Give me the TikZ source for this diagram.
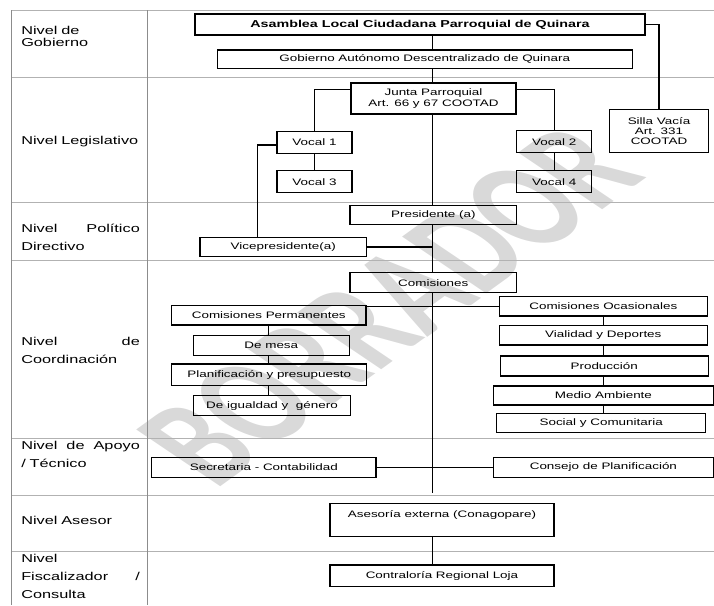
\documentclass[tikz,border=0pt]{standalone}
\usepackage{fontspec}
\setmainfont{Liberation Sans}[FakeStretch=1.43]
\newfontfamily\sellofont{Carlito}

\tikzstyle{every node}=[draw=black,line width=1.1pt,inner sep=0pt,minimum height=20pt,font=\fontsize{9.4}{10.3}\selectfont]
\tikzstyle{nivel}=[draw=none,anchor=base west,align=left,text width=118.6pt,minimum height=0pt,font=\fontsize{11.4}{18.4}\selectfont]
\tikzstyle{sello}=[draw=none,minimum height=0pt,text=black!15,font=\sellofont\bfseries\fontsize{90}{90}\selectfont,xscale=1.43,rotate=46,yscale=1.4,transform shape]
\tikzstyle{rejilla}=[draw=black!30,line width=1pt]
\tikzstyle{enlace}=[draw=black,line width=1.1pt]

\begin{document}
\begin{tikzpicture}[x=1pt,y=-1pt]
\useasboundingbox (0,0) rectangle (714,605);
\node[sello] (borr) at (390,305) {BORRADOR};

\draw[rejilla] (11.7,10) -- (714,10);
\draw[rejilla] (11.7,77.7) -- (714,77.7);
\draw[rejilla] (11.7,202.8) -- (714,202.8);
\draw[rejilla] (11.7,260) -- (714,260);
\draw[rejilla] (11.7,438.3) -- (714,438.3);
\draw[rejilla] (11.7,495.3) -- (714,495.3);
\draw[rejilla] (11.7,551.7) -- (714,551.7);
\draw[rejilla,draw=black!45] (11.7,10) -- (11.7,605);
\draw[rejilla,draw=black!45] (147.7,10) -- (147.7,605);

\node[nivel,font=\fontsize{11.4}{12.4}\selectfont] (ngob) at (20.7,34.3) {Nivel de\\Gobierno};
\node[nivel,text width=125pt] (nleg) at (20.7,144) {Nivel Legislativo};
\node[nivel] (npol) at (20.7,232.2) {Nivel\hfill Político\\Directivo};
\node[nivel] (ncoo) at (20.7,345) {Nivel\hfill de\\Coordinación};
\node[nivel] (napo) at (20.7,449.5) {Nivel\hfill de\hfill Apoyo\\/ Técnico};
\node[nivel,text width=125pt] (nase) at (20.7,524) {Nivel Asesor};
\node[nivel] (nfis) at (20.7,562) {Nivel\\Fiscalizador\hfill /\\Consulta};

\node[minimum width=450pt,minimum height=21pt,font=\bfseries\fontsize{10}{11}\selectfont] (asam) at (420,24.5) {Asamblea Local Ciudadana Parroquial de Quinara};
\node[minimum width=415pt,minimum height=18.5pt] (gob) at (424.8,59.2) {Gobierno Autónomo Descentralizado de Quinara};
\node[minimum width=165pt,minimum height=31pt,align=center] (junta) at (433.5,98.5) {Junta Parroquial\\Art. 66 y 67 COOTAD};
\node[minimum width=75pt,minimum height=22pt] (voc1) at (314.5,142.5) {Vocal 1};
\node[minimum width=75pt,minimum height=22pt] (voc3) at (314.5,181.7) {Vocal 3};
\node[minimum width=75pt,minimum height=22pt] (voc2) at (554.2,141.7) {Vocal 2};
\node[minimum width=75pt,minimum height=22pt] (voc4) at (554.2,181.7) {Vocal 4};
\node[minimum width=99pt,minimum height=43.7pt,align=center,font=\fontsize{9.4}{9.7}\selectfont] (silla) at (659,130.9) {Silla Vacía\\Art. 331\\COOTAD};
\node[minimum width=166.7pt,minimum height=18.7pt] (pres) at (433.3,214.7) {Presidente (a)};
\node[minimum width=166.7pt,minimum height=19.4pt] (vice) at (283.3,247) {Vicepresidente(a)};
\node[minimum width=166.7pt] (comis) at (433.3,282.7) {Comisiones};
\node[minimum width=194.3pt,minimum height=19.3pt] (cperm) at (268.8,315.3) {Comisiones Permanentes};
\node[minimum width=156pt] (mesa) at (271.3,345.8) {De mesa};
\node[minimum width=195pt,minimum height=21.7pt] (planif) at (269.2,374.8) {Planificación y presupuesto};
\node[minimum width=157.4pt] (igual) at (272,405.8) {De igualdad y~ género};
\node[minimum width=208pt,minimum height=19.3pt] (cocas) at (603.3,306.3) {Comisiones Ocasionales};
\node[minimum width=208pt,minimum height=19.3pt] (vial) at (603.3,335.3) {Vialidad y Deportes};
\node[minimum width=208.3pt] (prod) at (604.2,366) {Producción};
\node[minimum width=220pt,minimum height=19pt] (medio) at (603.4,395.5) {Medio Ambiente};
\node[minimum width=209pt,minimum height=19.4pt] (social) at (601.2,423) {Social y Comunitaria};
\node[minimum width=224.3pt] (secre) at (263.8,467.3) {Secretaria - Contabilidad};
\node[minimum width=220pt] (consejo) at (603.4,467.3) {Consejo de Planificación};
\node[minimum width=224pt,text height=14.2pt,text depth=18.5pt] (aseso) at (442,519.7) {Asesoría externa (Conagopare)};
\node[minimum width=224pt,minimum height=21.7pt] (contra) at (442,575.8) {Contraloría Regional Loja};

\coordinate (tr) at (432.5,0);
\coordinate (trfin) at (432.5,493.3);
\coordinate (vx) at (257.3,0);
\coordinate (lc) at (268.5,0);
\coordinate (rc) at (603.3,0);

\draw[enlace] (asam.south -| tr) -- (gob.north -| tr);
\draw[enlace] (gob.south -| tr) -- (junta.north -| tr);
\draw[enlace] (junta.south -| tr) -- (pres.north -| tr);
\draw[enlace] (pres.south -| tr) -- (comis.north -| tr);
\draw[enlace] (comis.south -| tr) -- (trfin);
\draw[enlace] ([yshift=9pt]junta.west) -| (voc1.north);
\draw[enlace] ([yshift=9pt]junta.east) -| (voc2.north);
\draw[enlace] (voc1.south) -- (voc3.north);
\draw[enlace] (voc2.south) -- (voc4.north);
\draw[enlace] ([yshift=-2.5pt]voc1.west) -| (vx |- vice.north);
\draw[enlace] (vice.east) -- (vice.east -| tr);
\draw[enlace] (asam.east) -| (silla.north);
\draw[enlace] (cocas.west) -- (cocas.west -| cperm.east);
\draw[enlace] (cperm.south -| lc) -- (mesa.north -| lc);
\draw[enlace] (mesa.south -| lc) -- (planif.north -| lc);
\draw[enlace] (planif.south -| lc) -- (igual.north -| lc);
\draw[enlace] (cocas.south -| rc) -- (vial.north -| rc);
\draw[enlace] (vial.south -| rc) -- (prod.north -| rc);
\draw[enlace] (prod.south -| rc) -- (medio.north -| rc);
\draw[enlace] (medio.south -| rc) -- (social.north -| rc);
\draw[enlace] (secre.east) -- (consejo.west);
\draw[enlace] (aseso.south -| tr) -- (contra.north -| tr);
\end{tikzpicture}
\end{document}
